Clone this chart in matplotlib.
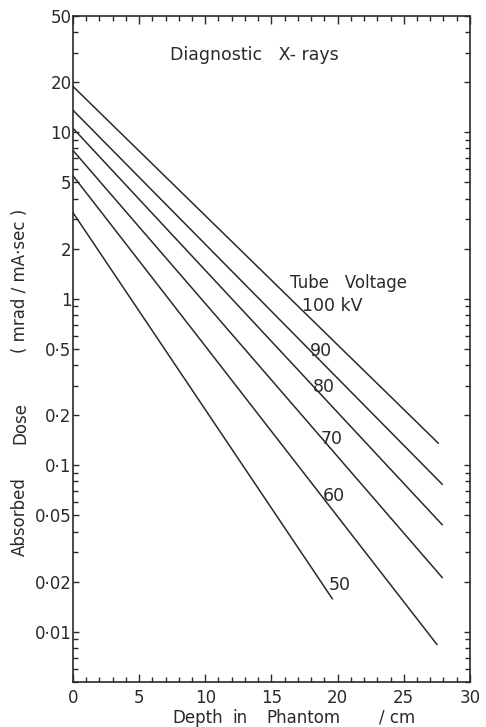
import matplotlib.pyplot as plt
from matplotlib.ticker import FixedLocator, LogLocator, NullFormatter, MultipleLocator

voltages = ['100 kV', '90', '80', '70', '60', '50']
depth = [[0, 27.6], [0, 27.9], [0, 27.9], [0, 27.9], [0, 27.5], [0, 19.6]]
dose = [[18.9, 0.136], [13.6, 0.077], [10.6, 0.044], [7.8, 0.0212], [5.5, 0.0084], [3.3, 0.0158]]

ytick_vals = [50, 20, 10, 5, 2, 1, 0.5, 0.2, 0.1, 0.05, 0.02, 0.01]
ytick_labels = ['50', '20', '10', '5', '2', '1', '0·5', '0·2', '0·1', '0·05', '0·02', '0·01']
xtick_vals = [0, 5, 10, 15, 20, 25, 30]

# where the curve labels sit (depth, dose)
label_pos = [(17.3, 0.91), (17.9, 0.486), (18.1, 0.295), (18.7, 0.1435), (18.9, 0.065), (19.3, 0.0192)]

ink = '#2a2a2a'
fig = plt.figure(figsize=(4.86, 7.27), dpi=100)
ax = fig.add_axes([0.150, 0.062, 0.817, 0.916])

for d, v in zip(depth, dose):
    ax.plot(d, v, color=ink, lw=1.1)

ax.set_yscale('log')
ax.set_xlim(0, 30)
ax.set_ylim(0.005, 50)

ax.yaxis.set_major_locator(FixedLocator(ytick_vals))
ax.set_yticklabels(ytick_labels)
ax.yaxis.set_minor_locator(LogLocator(base=10, subs=range(2, 10)))
ax.yaxis.set_minor_formatter(NullFormatter())
ax.xaxis.set_major_locator(FixedLocator(xtick_vals))
ax.xaxis.set_minor_locator(MultipleLocator(1))

ax.tick_params(which='both', direction='in', top=True, right=True, colors=ink,
               labelsize=12, width=1.0)
ax.tick_params(which='major', length=6)
ax.tick_params(which='minor', length=3.5)
ax.tick_params(axis='y', which='major', length=4.5, pad=1)
ax.tick_params(axis='x', which='major', pad=5)
for s in ax.spines.values():
    s.set_linewidth(1.2)
    s.set_color(ink)

ax.text(7.33, 29.1, 'Diagnostic   X- rays', fontsize=12.5, color=ink, ha='left', va='center')
ax.text(16.4, 1.25, 'Tube   Voltage', fontsize=12, color=ink, ha='left', va='center')
for (x, y), lab in zip(label_pos, voltages):
    ax.text(x, y, lab, fontsize=12.5, color=ink, ha='left', va='center')

# axis titles, spaced out like the original lettering
base_y = 1 - 723 / 727
for xc, word in [(198, 'Depth'), (240, 'in'), (303, 'Phantom'), (397, '/ cm')]:
    fig.text(xc / 486, base_y, word, fontsize=12, color=ink, ha='center', va='baseline')

base_x = 25 / 486
for yc, word in [(517, 'Absorbed'), (423, 'Dose'), (281, '( mrad / mA·sec )')]:
    fig.text(base_x, 1 - yc / 727, word, fontsize=12, color=ink, rotation=90,
             rotation_mode='anchor', ha='center', va='baseline')

fig.savefig('out.png', dpi=100)
